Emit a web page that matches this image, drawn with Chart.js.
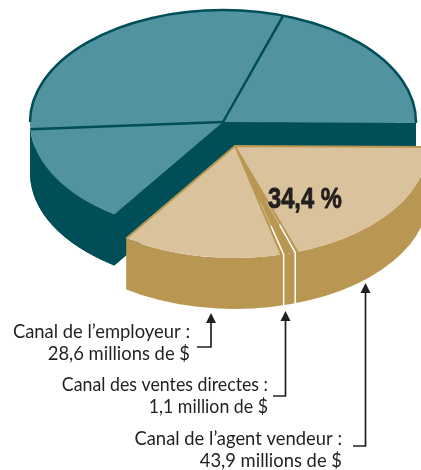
<!DOCTYPE html>
<html lang="fr">
<head>
<meta charset="utf-8">
<style>
  html, body { margin: 0; padding: 0; background: #fff; }
  #wrap { position: relative; width: 421px; height: 470px; overflow: hidden; }
  canvas { display: block; }
</style>
<script src="https://cdn.jsdelivr.net/npm/chart.js@4"></script>
</head>
<body>
<div id="wrap"><canvas id="pie" width="421" height="470"></canvas></div>
<script>
// Ventes par canal de distribution, en millions de $ (total 214).
const channels = ['Canal de l\u2019agent vendeur', 'Canal des ventes directes', 'Canal de l\u2019employeur', 'Autres A', 'Autres B', 'Autres C'];
const amounts = [43.9, 1.1, 28.6, 30.9, 66.5, 43.0];
const topColours = ['#d9c29c', '#b99752', '#d9c29c', '#5193a0', '#5193a0', '#5193a0'];
const highlighted = [true, true, true, false, false, false];
const shareLabel = '34,4 %';
const callouts = [
  { lines: ['Canal de l\u2019employeur :', '28,6 millions de $'], slice: 2 },
  { lines: ['Canal des ventes directes :', '1,1 million de $'], slice: 1 },
  { lines: ['Canal de l\u2019agent vendeur :', '43,9 millions de $'], slice: 0 }
];

// Presentation of the tilted pie
const SQUASH = 0.58, DEPTH = 51, RADIUS = 193;
const LIFT = { x: 12, y: 24 };           // how far the highlighted part is pulled out
const GOLD_SIDE = '#b99752', BEIGE = '#d9c29c', TEAL_SIDE = '#004e57', INK = '#231f20';
const GAP_PAD = { toAgent: 0.058, toEmployer: 0 }; // radians added around the thin slice
const GAP_INSET = 0.014;                           // separators sit this far inside the gap
const CALLOUT_LAYOUT = [
  { right: 190, base: 338, startX: 197, bendY: 347, x: 211, headY: 313, stretch: 1 },
  { right: 268, base: 391, startX: 273, bendY: 396, x: 285.5, headY: 311, stretch: 0.965 },
  { right: 342, base: 445, startX: 353, bendY: 446, x: 365.5, headY: 283, stretch: 1 }
];

function sectorPath(ctx, cx, cy, a0, a1) {
  ctx.beginPath();
  ctx.moveTo(cx, cy);
  ctx.ellipse(cx, cy, RADIUS, RADIUS * SQUASH, 0, a0, a1);
  ctx.closePath();
}

// Side wall below the rim between two angles (only the front half shows).
function rimWall(ctx, cx, cy, a0, a1) {
  const from = Math.max(a0, 0), to = Math.min(a1, Math.PI);
  if (to <= from) return;
  ctx.beginPath();
  ctx.ellipse(cx, cy, RADIUS, RADIUS * SQUASH, 0, from, to);
  ctx.ellipse(cx, cy + DEPTH, RADIUS, RADIUS * SQUASH, 0, to, from, true);
  ctx.closePath();
  ctx.fill();
}

function rimPoint(cx, cy, a) {
  return { x: cx + RADIUS * Math.cos(a), y: cy + RADIUS * SQUASH * Math.sin(a) };
}

const tiltedPie = {
  id: 'tiltedPie',
  beforeDatasetDraw(chart) {
    const ctx = chart.ctx;
    const arcs = chart.getDatasetMeta(0).data;
    const ox = arcs[0].x, oy = arcs[0].y;
    const centre = i => highlighted[i] ? { x: ox + LIFT.x, y: oy + LIFT.y } : { x: ox, y: oy };

    const drawTops = group => arcs.forEach((arc, i) => {
      if (highlighted[i] !== group) return;
      const c = centre(i);
      ctx.save();
      ctx.translate(c.x, c.y);
      ctx.scale(1, SQUASH);
      ctx.translate(-arc.x, -arc.y);
      arc.draw(ctx);
      ctx.restore();
    });

    // Teal block: bottom face, cut faces and outer wall
    const tealArcs = arcs.filter((a, i) => !highlighted[i]);
    const tStart = tealArcs[0].startAngle, tEnd = tealArcs[tealArcs.length - 1].endAngle;
    ctx.fillStyle = TEAL_SIDE;
    sectorPath(ctx, ox, oy + DEPTH, tStart, tEnd); ctx.fill();
    [tStart, tEnd].forEach(a => {
      const p = rimPoint(ox, oy, a);
      ctx.beginPath();
      ctx.moveTo(ox, oy); ctx.lineTo(p.x, p.y);
      ctx.lineTo(p.x, p.y + DEPTH); ctx.lineTo(ox, oy + DEPTH);
      ctx.closePath(); ctx.fill();
    });
    rimWall(ctx, ox, oy, tStart, tEnd);
    drawTops(false);

    // Teal rim and dividing strokes
    ctx.strokeStyle = TEAL_SIDE;
    ctx.lineWidth = 2.5;
    ctx.lineJoin = 'round';
    ctx.beginPath();
    ctx.ellipse(ox, oy, RADIUS, RADIUS * SQUASH, 0, Math.PI, tEnd);
    ctx.stroke();
    tealArcs.slice(1).forEach(a => {
      const p = rimPoint(ox, oy, a.startAngle);
      ctx.beginPath(); ctx.moveTo(ox, oy); ctx.lineTo(p.x, p.y); ctx.stroke();
    });

    // Gold block
    const gx = ox + LIFT.x, gy = oy + LIFT.y;
    const goldArcs = arcs.filter((a, i) => highlighted[i]);
    const gStart = goldArcs[0].startAngle, gEnd = goldArcs[goldArcs.length - 1].endAngle;
    ctx.fillStyle = GOLD_SIDE;
    rimWall(ctx, gx, gy, gStart, gEnd);
    drawTops(true);

    // Thin slice: widened gold wedge with light separators running to the rim and down the wall
    const thin = arcs[1];
    const a0 = thin.startAngle - GAP_PAD.toAgent, a1 = thin.endAngle + GAP_PAD.toEmployer;
    const edgeA = rimPoint(gx, gy, a0), edgeB = rimPoint(gx, gy, a1);
    ctx.fillStyle = GOLD_SIDE;
    sectorPath(ctx, gx, gy, a0, a1);
    ctx.fill();

    [a0 + GAP_INSET, a1 - GAP_INSET].forEach(a => {
      const p = rimPoint(gx, gy, a);
      const at = t => ({ x: gx + (p.x - gx) * t, y: gy + (p.y - gy) * t });
      const s = at(0.52), m = at(0.74);
      ctx.strokeStyle = BEIGE;
      ctx.lineWidth = 0.9;
      ctx.beginPath(); ctx.moveTo(s.x, s.y); ctx.lineTo(m.x, m.y); ctx.stroke();
      ctx.strokeStyle = '#fff';
      ctx.lineWidth = 1.5;
      ctx.beginPath();
      ctx.moveTo(m.x, m.y);
      ctx.lineTo(p.x, p.y);
      ctx.lineTo(p.x, p.y + DEPTH);
      ctx.stroke();
    });

    // Gold outline of the pulled-out part
    ctx.strokeStyle = GOLD_SIDE;
    ctx.lineWidth = 2;
    const pEnd = rimPoint(gx, gy, gEnd), pStart = rimPoint(gx, gy, gStart);
    ctx.beginPath();
    ctx.moveTo(pEnd.x, pEnd.y); ctx.lineTo(gx, gy); ctx.lineTo(pStart.x, pStart.y);
    ctx.stroke();
    ctx.lineWidth = 1.5;
    ctx.beginPath();
    ctx.moveTo(edgeA.x, edgeA.y); ctx.lineTo(gx, gy); ctx.lineTo(edgeB.x, edgeB.y);
    ctx.stroke();
    return false;
  },
  afterDraw(chart) {
    const ctx = chart.ctx;
    ctx.save();
    // Share of the highlighted part
    ctx.fillStyle = INK;
    ctx.strokeStyle = INK;
    ctx.textAlign = 'left';
    ctx.textBaseline = 'alphabetic';
    ctx.save();
    ctx.translate(268, 208);
    ctx.scale(0.79, 1);
    ctx.font = 'bold 30px "Liberation Sans", sans-serif';
    ctx.lineWidth = 0.8;
    ctx.strokeText(shareLabel, 0, 0);
    ctx.fillText(shareLabel, 0, 0);
    ctx.restore();

    // Callouts
    ctx.font = '18.4px Lato, sans-serif';
    ctx.textAlign = 'right';
    callouts.forEach((c, i) => {
      const l = CALLOUT_LAYOUT[i];
      c.lines.forEach((t, k) => {
        ctx.save();
        ctx.translate(l.right, l.base + k * 22);
        ctx.scale(l.stretch, 1);
        ctx.fillText(t, 0, 0);
        ctx.restore();
      });
      ctx.lineWidth = 1.7;
      ctx.beginPath();
      ctx.moveTo(l.startX, l.bendY);
      ctx.lineTo(l.x, l.bendY);
      ctx.lineTo(l.x, l.headY + 8);
      ctx.stroke();
      ctx.beginPath();
      ctx.moveTo(l.x, l.headY);
      ctx.lineTo(l.x + 5, l.headY + 10);
      ctx.lineTo(l.x - 5, l.headY + 10);
      ctx.closePath();
      ctx.fill();
    });
    ctx.restore();
  }
};

new Chart(document.getElementById('pie'), {
  type: 'pie',
  data: {
    labels: channels,
    datasets: [{ data: amounts, backgroundColor: topColours, borderWidth: 0 }]
  },
  options: {
    responsive: false,
    animation: false,
    rotation: 90.5,
    radius: RADIUS,
    // Puts the pie centre at the middle of the free area
    layout: { padding: { left: 25, right: 0, top: 0, bottom: 226 } },
    plugins: { legend: { display: false }, tooltip: { enabled: false } }
  },
  plugins: [tiltedPie]
});
</script>
</body>
</html>
